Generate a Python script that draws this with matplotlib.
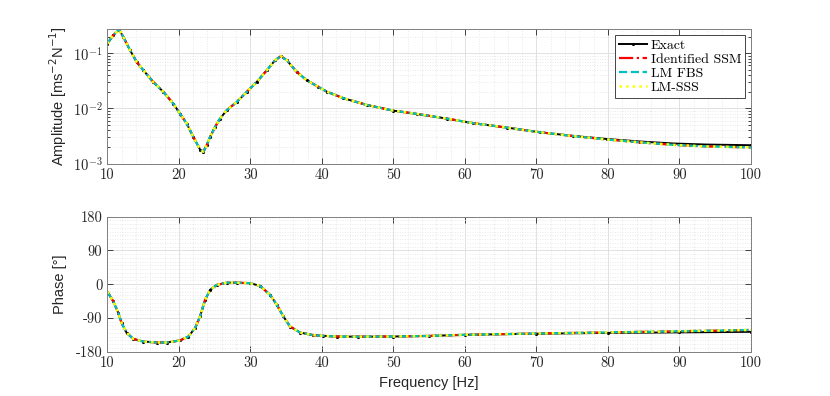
import math
import matplotlib
matplotlib.use("Agg")
import matplotlib.pyplot as plt
from matplotlib.ticker import FixedLocator, MultipleLocator, FuncFormatter, LogLocator, NullFormatter

plt.rcParams['mathtext.fontset'] = 'cm'
plt.rcParams['axes.unicode_minus'] = False
plt.rcParams['font.family'] = ['Liberation Sans', 'DejaVu Sans']

# ---------------- data ----------------
freq_amp = [10.0, 10.84, 11.64, 12.24, 13.18, 14.11, 15.04, 16.43, 17.83, 19.23,
            20.17, 21.11, 22.03, 22.97, 23.43, 23.90, 24.37, 25.07, 25.76, 26.70,
            28.10, 29.50, 30.90, 32.30, 33.46, 34.26, 35.09, 36.49, 37.89, 39.51,
            40.69, 43.01, 46.28, 50.01, 53.28, 57.48, 61.2, 65.87, 70.53, 75.18,
            79.86, 84.52, 89.17, 93.84, 100.0]
amp_exact = [0.149, 0.211, 0.265, 0.196, 0.113, 0.069, 0.049, 0.030, 0.020, 0.0122,
             0.0080, 0.0053, 0.00305, 0.0018, 0.00165, 0.00216, 0.00305, 0.00463, 0.00655, 0.00928,
             0.0131, 0.0199, 0.0302, 0.049, 0.0745, 0.088, 0.0745, 0.0457, 0.0324, 0.0245,
             0.0201, 0.0153, 0.01156, 0.00912, 0.00794, 0.00655, 0.0054, 0.0045, 0.0037, 0.00318,
             0.00280, 0.00252, 0.00232, 0.00222, 0.00216]
amp_ident = [0.149, 0.211, 0.265, 0.196, 0.113, 0.069, 0.049, 0.030, 0.020, 0.0122,
             0.0080, 0.0053, 0.00305, 0.0018, 0.00165, 0.00216, 0.00305, 0.00463, 0.00655, 0.00928,
             0.0131, 0.0199, 0.0302, 0.049, 0.0745, 0.088, 0.0745, 0.0457, 0.0324, 0.0245,
             0.0201, 0.0153, 0.01156, 0.00912, 0.00794, 0.00655, 0.0054, 0.0045, 0.0037, 0.00316,
             0.00274, 0.00243, 0.00219, 0.00205, 0.00197]

freq_ph = [10.0, 10.84, 11.54, 12.01, 12.71, 13.64, 15.04, 16.91, 18.31, 20.17,
           21.33, 22.27, 22.97, 23.67, 24.37, 25.30, 26.70, 28.10, 29.96, 31.36,
           32.76, 33.70, 34.62, 35.56, 36.96, 38.82, 40.21, 42.09, 45.0, 50.0,
           55.0, 60.0, 70.0, 80.0, 90.0, 100.0]
ph_exact = [-19.7, -46, -77, -104, -130, -146, -153, -155.5, -155.5, -150,
            -139.5, -117, -86, -42, -15, -2, 4, 4, 2.7, -4.5,
            -28.5, -55, -86, -113, -129, -136, -137.7, -139.5, -140, -139.5,
            -138, -135, -132, -130, -128.5, -127]
ph_ident = [-19.7, -46, -77, -104, -130, -146, -153, -155.5, -155.5, -150,
            -139.5, -117, -86, -42, -15, -2, 4, 4, 2.7, -4.5,
            -28.5, -55, -86, -113, -129, -136, -137.7, -139.5, -140, -139.5,
            -138, -135, -131.5, -128.5, -125.5, -122]

labels = ['Exact', 'Identified SSM', 'LM FBS', 'LM-SSS']
xticks = [10, 20, 30, 40, 50, 60, 70, 80, 90, 100]
phase_ticks = [-180, -90, 0, 90, 180]

# ---------------- figure ----------------
fig = plt.figure(figsize=(8.3, 3.96), dpi=100)
ax1 = fig.add_axes([0.1293, 0.5866, 0.7755, 0.3394])
ax2 = fig.add_axes([0.1293, 0.1119, 0.7755, 0.3409])

axcol = '#262626'
styles = [dict(color='k', ls='-', marker='.', ms=2.5, lw=1.4),
          dict(color='r', ls='-.', lw=1.6),
          dict(color='c', ls='--', lw=1.6),
          dict(color='#ffff00', ls=':', lw=1.8)]

amps = [amp_exact, amp_ident, amp_ident, amp_ident]
phs = [ph_exact, ph_ident, ph_ident, ph_ident]
for lab, st, a, p in zip(labels, styles, amps, phs):
    ax1.plot(freq_amp, a, label=lab, **st)
    ax2.plot(freq_ph, p, **st)

ax1.set_yscale('log')
ax1.set_ylim(1e-3, 0.27)
ax2.set_ylim(-180, 180)

int_fmt = FuncFormatter(lambda v, pos: '%d' % round(v))
for ax in (ax1, ax2):
    ax.set_xlim(10, 100)
    ax.xaxis.set_major_locator(FixedLocator(xticks))
    ax.xaxis.set_minor_locator(MultipleLocator(2))
    ax.xaxis.set_major_formatter(int_fmt)
    ax.tick_params(which='both', direction='in', top=True, right=True,
                   colors=axcol, labelsize=10.5, width=0.6, labelfontfamily='cmr10')
    ax.tick_params(which='major', length=4)
    ax.tick_params(axis='x', which='minor', length=0)
    ax.grid(True, which='major', color='#dcdcdc', lw=0.6, ls='-')
    ax.grid(True, which='minor', color='#e2e2e2', lw=0.6, ls=(0, (1, 2)))
    ax.set_axisbelow(True)
    for s in ax.spines.values():
        s.set_color('#7f7f7f')
        s.set_linewidth(0.7)

ax1.yaxis.set_major_locator(LogLocator(base=10, numticks=10))
ax1.yaxis.set_minor_locator(LogLocator(base=10, subs=range(2, 10), numticks=20))
ax1.yaxis.set_major_formatter(FuncFormatter(lambda v, pos: r'$10^{%d}$' % round(math.log10(v))))
ax1.yaxis.set_minor_formatter(NullFormatter())
ax1.tick_params(axis='y', which='minor', length=2)

ax2.yaxis.set_major_locator(FixedLocator(phase_ticks))
ax2.yaxis.set_minor_locator(MultipleLocator(10))
ax2.yaxis.set_major_formatter(int_fmt)
ax2.tick_params(axis='y', which='minor', length=0)

ax1.set_ylabel(r'Amplitude [ms$^{-2}$N$^{-1}$]', fontsize=10.5, math_fontfamily='dejavusans', color=axcol, labelpad=3)
ax2.set_ylabel('Phase [°]', fontsize=10.5, color=axcol, labelpad=6)
ax2.set_xlabel('Frequency [Hz]', fontsize=10.5, color=axcol, labelpad=4)

leg = ax1.legend(loc='upper right', prop={'family': 'cmr10', 'size': 10},
                 handlelength=2.0, numpoints=1, fancybox=False, framealpha=1,
                 edgecolor='#262626', borderpad=0.3, labelspacing=0.1, handletextpad=0.3,
                 borderaxespad=0.4)
leg.get_frame().set_linewidth(0.6)

fig.savefig('out.png', dpi=100)
